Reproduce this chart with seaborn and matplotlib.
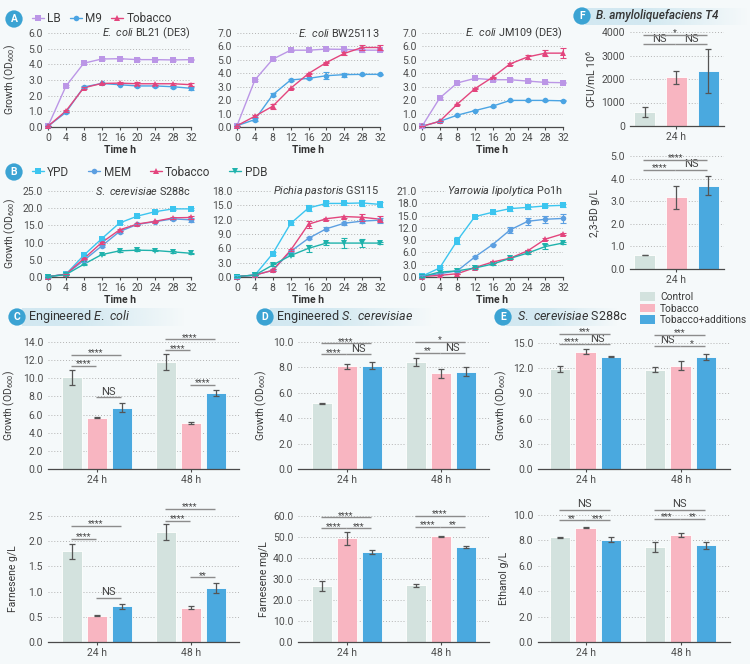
import numpy as np
import pandas as pd
import matplotlib
matplotlib.use('Agg')
import matplotlib.pyplot as plt
import seaborn as sns
from matplotlib.lines import Line2D
from matplotlib.patches import Patch

# ---------------- data ----------------
time_h = [0, 4, 8, 12, 16, 20, 24, 28, 32]

# Panel A: growth (OD600) of E. coli strains
a_media = ['LB', 'M9', 'Tobacco']
a1_lb = [0.05, 2.6, 4.07, 4.34, 4.36, 4.3, 4.3, 4.28, 4.3]
a1_m9 = [0.05, 0.93, 2.55, 2.78, 2.7, 2.62, 2.62, 2.57, 2.47]
a1_tob = [0.05, 1.02, 2.5, 2.78, 2.8, 2.76, 2.76, 2.76, 2.7]
a1_lb_sd = [0, 0.05, 0.05, 0.05, 0.05, 0.08, 0.05, 0.05, 0.05]
a1_m9_sd = [0, 0.05, 0.05, 0.05, 0.05, 0.05, 0.05, 0.05, 0.08]
a1_tob_sd = [0, 0.05, 0.05, 0.05, 0.05, 0.1, 0.05, 0.05, 0.08]

a2_lb = [0.1, 3.5, 5.05, 5.72, 5.72, 5.8, 5.78, 5.72, 5.72]
a2_m9 = [0.1, 0.55, 2.4, 3.5, 3.62, 3.82, 3.9, 3.92, 3.92]
a2_tob = [0.1, 0.8, 1.55, 2.88, 3.98, 4.8, 5.48, 5.92, 5.92]
a2_lb_sd = [0, 0.05, 0.05, 0.05, 0.05, 0.05, 0.05, 0.1, 0.05]
a2_m9_sd = [0, 0.12, 0.1, 0.05, 0.05, 0.25, 0.15, 0.05, 0.05]
a2_tob_sd = [0, 0.08, 0.2, 0.05, 0.05, 0.05, 0.12, 0.2, 0.15]

a3_lb = [0.05, 2.15, 3.28, 3.62, 3.52, 3.52, 3.42, 3.32, 3.3]
a3_m9 = [0.05, 0.42, 0.88, 1.22, 1.55, 1.98, 1.98, 1.98, 1.95]
a3_tob = [0.05, 0.42, 1.7, 2.85, 3.7, 4.7, 5.22, 5.5, 5.5]
a3_lb_sd = [0.1, 0.05, 0.05, 0.05, 0.1, 0.1, 0.05, 0.1, 0.05]
a3_m9_sd = [0, 0.03, 0.03, 0.03, 0.03, 0.05, 0.03, 0.03, 0.03]
a3_tob_sd = [0, 0, 0.05, 0.05, 0.05, 0.05, 0.12, 0.2, 0.35]

# Panel B: growth (OD600) of yeasts
b_media = ['YPD', 'MEM', 'Tobacco', 'PDB']
b1_ypd = [0.1, 0.8, 6.3, 11.1, 15.7, 17.7, 19.0, 19.8, 19.8]
b1_mem = [0.1, 0.8, 4.8, 9.0, 13.2, 15.3, 16.1, 16.9, 16.6]
b1_tob = [0.1, 0.8, 5.3, 10.0, 13.7, 15.4, 16.2, 17.2, 17.3]
b1_pdb = [0.1, 0.7, 3.7, 6.5, 7.6, 7.8, 7.7, 7.3, 6.9]
b1_ypd_sd = [0, 0, 0.3, 0.3, 0.3, 0.3, 0.2, 0.3, 0.3]
b1_mem_sd = [0, 0, 0.3, 0.3, 0.3, 0.2, 0.2, 0.3, 0.6]
b1_tob_sd = [0, 0, 0.2, 0.3, 0.3, 0.2, 0.2, 0.3, 0.5]
b1_pdb_sd = [0, 0, 0.2, 0.2, 0.2, 0.2, 0.2, 0.2, 0.2]

b2_ypd = [0.1, 0.4, 4.9, 11.2, 14.45, 15.4, 15.4, 15.5, 15.2]
b2_mem = [0.1, 0.4, 1.4, 5.35, 8.1, 10.1, 11.25, 11.7, 11.9]
b2_tob = [0.1, 0.4, 1.4, 5.6, 11.05, 12.2, 12.65, 12.5, 12.1]
b2_pdb = [0.1, 0.4, 2.5, 4.5, 6.0, 7.1, 7.1, 7.1, 7.1]
b2_ypd_sd = [0.3, 0, 0.3, 0.3, 0.7, 0.6, 0.4, 0.6, 0.6]
b2_mem_sd = [0, 0, 0.2, 0.2, 0.2, 0.3, 0.3, 0.3, 0.5]
b2_tob_sd = [0, 0, 0.2, 0.2, 0.7, 0.2, 0.2, 0.7, 0.6]
b2_pdb_sd = [0, 0, 0.3, 0.2, 0.8, 0.3, 1.0, 0.8, 0.2]

b3_ypd = [0.2, 2.2, 8.9, 14.75, 15.8, 16.7, 17.0, 17.35, 17.5]
b3_mem = [0.2, 0.8, 1.5, 4.9, 7.9, 11.5, 13.6, 14.1, 14.3]
b3_tob = [0.1, 0.4, 0.8, 2.3, 3.65, 4.6, 6.4, 9.25, 10.55]
b3_pdb = [0.1, 1.2, 1.5, 2.2, 3.15, 4.55, 5.85, 7.45, 8.3]
b3_ypd_sd = [0.3, 0.3, 0.8, 0.3, 0.3, 0.5, 0.3, 0.3, 0.3]
b3_mem_sd = [0.2, 0.2, 0.2, 0.2, 0.2, 0.7, 0.8, 0.8, 1.0]
b3_tob_sd = [0, 0, 0, 0.2, 0.2, 0.2, 0.2, 0.2, 0.2]
b3_pdb_sd = [0, 0, 0, 0.2, 0.3, 0.2, 0.3, 0.5, 0.3]

# Bar panels: rows = time, columns = condition
conditions = ['Control', 'Tobacco', 'Tobacco+additions']
bar_times = ['24 h', '48 h']
c_od_mean = [[10.1, 5.67, 6.74], [11.8, 5.05, 8.33]]
c_od_sd = [[0.8, 0.08, 0.5], [0.88, 0.1, 0.33]]
c_far_mean = [[1.8, 0.52, 0.71], [2.19, 0.68, 1.08]]
c_far_sd = [[0.15, 0.01, 0.05], [0.16, 0.03, 0.1]]
d_od_mean = [[5.16, 8.08, 8.13], [8.42, 7.53, 7.66]]
d_od_sd = [[0.02, 0.2, 0.26], [0.3, 0.34, 0.36]]
d_far_mean = [[26.7, 49.5, 42.7], [27.1, 50.3, 45.2]]
d_far_sd = [[2.2, 3.1, 1.0], [0.7, 0.3, 0.6]]
e_od_mean = [[11.95, 13.97, 13.38], [11.8, 12.3, 13.3]]
e_od_sd = [[0.36, 0.32, 0.1], [0.3, 0.55, 0.35]]
e_eth_mean = [[8.24, 9.0, 8.05], [7.45, 8.45, 7.6]]
e_eth_sd = [[0.06, 0.06, 0.18], [0.4, 0.17, 0.3]]
f_times = ['24 h']
f_cfu_mean = [[594, 2078, 2332]]
f_cfu_sd = [[200, 270, 940]]
f_bd_mean = [[0.62, 3.17, 3.68]]
f_bd_sd = [[0.02, 0.5, 0.42]]

# significance: (time index, cond i, cond j, height, label)
c_od_sig = [(0, 0, 1, 11.35, '****'), (0, 0, 2, 12.6, '****'), (0, 1, 2, 7.9, 'NS'),
            (1, 0, 1, 13.08, '****'), (1, 0, 2, 14.3, '****'), (1, 1, 2, 9.3, '****')]
c_far_sig = [(0, 0, 1, 2.05, '****'), (0, 0, 2, 2.31, '****'), (0, 1, 2, 0.88, 'NS'),
             (1, 0, 1, 2.41, '****'), (1, 0, 2, 2.64, '****'), (1, 1, 2, 1.28, '**')]
d_od_sig = [(0, 0, 1, 9.03, '****'), (0, 0, 2, 9.9, '****'), (0, 1, 2, 9.03, 'NS'),
            (1, 0, 1, 9.13, '**'), (1, 0, 2, 10.0, '*'), (1, 1, 2, 9.13, 'NS')]
d_far_sig = [(0, 0, 1, 54.1, '****'), (0, 0, 2, 59.4, '****'), (0, 1, 2, 54.1, '***'),
             (1, 0, 1, 54.9, '****'), (1, 0, 2, 60.0, '****'), (1, 1, 2, 54.9, '**')]
e_od_sig = [(0, 0, 1, 14.88, '****'), (0, 0, 2, 16.1, '***'), (0, 1, 2, 14.88, 'NS'),
            (1, 0, 1, 14.68, 'NS'), (1, 0, 2, 15.95, '***'), (1, 1, 2, 14.68, '*')]
e_eth_sig = [(0, 0, 1, 9.58, '**'), (0, 1, 2, 9.58, '***'), (0, 0, 2, 10.42, 'NS'),
             (1, 0, 1, 9.68, '***'), (1, 1, 2, 9.68, '**'), (1, 0, 2, 10.42, 'NS')]
f_cfu_sig = [(0, 0, 1, 3490, 'NS'), (0, 1, 2, 3490, 'NS'), (0, 0, 2, 3873, '*')]
f_bd_sig = [(0, 0, 1, 4.4, '****'), (0, 1, 2, 4.4, 'NS'), (0, 0, 2, 4.84, '****')]

# ---------------- style ----------------
BG = '#f5f9fa'
TXT = '#3a3a3a'
TICK = '#4d4d4d'
a_colors = {'LB': '#bb96e6', 'M9': '#4ba4e3', 'Tobacco': '#e3457d'}
a_markers = {'LB': 's', 'M9': 'o', 'Tobacco': '^'}
b_colors = {'YPD': '#3cc5ef', 'MEM': '#5c9fe1', 'Tobacco': '#e3457d', 'PDB': '#1fb2ac'}
b_markers = {'YPD': 's', 'MEM': 'o', 'Tobacco': '^', 'PDB': 'v'}
bar_colors = {'Control': '#d3e2de', 'Tobacco': '#f8b5c1', 'Tobacco+additions': '#4aa9df'}

sns.set_theme(style='white')
plt.rcParams['font.family'] = ['Roboto', 'DejaVu Sans']
plt.rcParams['mathtext.fontset'] = 'custom'
plt.rcParams['mathtext.rm'] = 'Roboto'
plt.rcParams['mathtext.it'] = 'Roboto:italic'
plt.rcParams['mathtext.bf'] = 'Roboto:bold'
plt.rcParams['mathtext.default'] = 'regular'

W, H = 750, 664
fig = plt.figure(figsize=(W / 100, H / 100), dpi=100, facecolor=BG)


def add_ax(x0, x1, ytop, ybot):
    return fig.add_axes([x0 / W, 1 - ybot / H, (x1 - x0) / W, (ybot - ytop) / H])


def style(ax, ylim, yticks, fmt):
    ax.set_facecolor('none')
    ax.set_ylim(*ylim)
    ax.set_yticks(yticks)
    ax.set_yticklabels([fmt.format(v) for v in yticks])
    for s in ['top', 'right', 'left']:
        ax.spines[s].set_visible(False)
    ax.spines['bottom'].set_color('#4a4a4a')
    ax.spines['bottom'].set_linewidth(0.9)
    ax.grid(axis='y', linestyle=(0, (1, 2)), color='#b3b3b3', linewidth=0.7)
    ax.grid(axis='x', visible=False)
    ax.set_axisbelow(True)
    ax.tick_params(axis='y', length=0, pad=3.5, labelsize=7.5, labelcolor=TICK)
    ax.tick_params(axis='x', length=2.5, width=0.8, color='#4a4a4a', pad=1.5,
                   labelsize=7.5, labelcolor=TICK, bottom=True)


def ylab(ax, text, xpx):
    # xpx is the horizontal centre of the rotated label
    ax.set_ylabel(text, fontsize=7.5, color=TXT)
    pos = ax.get_position()
    ax.yaxis.set_label_coords((xpx + 5) / W, pos.y0 + pos.height / 2, transform=fig.transFigure)


def line_panel(ax, series, sds, names, colors, markers, ylim, yticks, title):
    df = pd.DataFrame({'time': np.tile(time_h, len(names)),
                       'od': np.concatenate([np.asarray(s, float) for s in series]),
                       'medium': np.repeat(names, len(time_h))})
    sns.lineplot(data=df, x='time', y='od', hue='medium', style='medium', hue_order=names,
                 style_order=names, palette=colors, markers=markers, dashes=False,
                 errorbar=None, legend=False, ax=ax, linewidth=1.0, markersize=4,
                 markeredgewidth=0, clip_on=False, zorder=3)
    for s, e, n in zip(series, sds, names):
        ax.errorbar(time_h, s, yerr=e, fmt='none', ecolor=colors[n], elinewidth=0.8,
                    capsize=2, capthick=0.8, clip_on=False, zorder=3)
    ax.set_xlim(0, 32)
    ax.set_xticks(time_h)
    style(ax, ylim, yticks, '{:.1f}')
    ax.set_xlabel('Time h', fontsize=7.5, fontweight='bold', color='#333333', labelpad=1.5)
    ax.set_ylabel('')
    ax.text(1.0, 1.0, title, transform=ax.transAxes, ha='right', va='center', fontsize=7.8,
            color=TXT, bbox=dict(fc=BG, ec='none', pad=1.0), zorder=5)


def bar_panel(ax, mean, sd, sig, times, ylim, yticks, fmt, xlim, gap):
    rows = []
    for ti, t in enumerate(times):
        for ci, c in enumerate(conditions):
            rows.append((t, c, mean[ti][ci]))
    df = pd.DataFrame(rows, columns=['time', 'condition', 'value'])
    sns.barplot(data=df, x='time', y='value', hue='condition', order=times,
                hue_order=conditions, palette=bar_colors, width=0.8, gap=gap,
                errorbar=None, legend=False, ax=ax, edgecolor='white', linewidth=0.6,
                saturation=1)
    patches = sorted(ax.patches, key=lambda p: p.get_x())
    centers = [[patches[ti * 3 + ci].get_x() + patches[ti * 3 + ci].get_width() / 2
                for ci in range(3)] for ti in range(len(times))]
    xs = [centers[ti][ci] for ti in range(len(times)) for ci in range(3)]
    ys = [mean[ti][ci] for ti in range(len(times)) for ci in range(3)]
    es = [sd[ti][ci] for ti in range(len(times)) for ci in range(3)]
    ax.errorbar(xs, ys, yerr=es, fmt='none', ecolor='#555555', elinewidth=0.9,
                capsize=2.5, capthick=0.9, zorder=4)
    for ti, i, j, y, lab in sig:
        x1 = centers[ti][i] - 0.01
        x2 = centers[ti][j] - 0.01
        ax.plot([x1, x2], [y, y], color='#8c8c8c', lw=1.0, clip_on=False, zorder=4,
                solid_capstyle='butt')
        star = '*' in lab
        ax.annotate(lab, ((x1 + x2) / 2, y), xytext=(0, -1.8 if star else 0.3),
                    textcoords='offset points', ha='center', va='bottom',
                    fontsize=6.5 if star else 8, color='#444444', annotation_clip=False)
    ax.set_xlim(*xlim)
    style(ax, ylim, yticks, fmt)
    ax.set_xlabel('')


# ---------------- Panel A ----------------
axA1 = add_ax(48, 191, 33, 127)
line_panel(axA1, [a1_lb, a1_m9, a1_tob], [a1_lb_sd, a1_m9_sd, a1_tob_sd], a_media,
           a_colors, a_markers, (0, 6), np.arange(0, 6.01, 1), r'$\mathit{E.\ coli}$ BL21 (DE3)')
ylab(axA1, 'Growth (OD$_{600}$)', 13)
axA2 = add_ax(237, 380, 33, 127)
line_panel(axA2, [a2_lb, a2_m9, a2_tob], [a2_lb_sd, a2_m9_sd, a2_tob_sd], a_media,
           a_colors, a_markers, (0, 7), np.arange(0, 7.01, 1), r'$\mathit{E.\ coli}$ BW25113')
axA3 = add_ax(422, 563, 33, 127)
line_panel(axA3, [a3_lb, a3_m9, a3_tob], [a3_lb_sd, a3_m9_sd, a3_tob_sd], a_media,
           a_colors, a_markers, (0, 7), np.arange(0, 7.01, 1), r'$\mathit{E.\ coli}$ JM109 (DE3)')

# ---------------- Panel B ----------------
axB1 = add_ax(48, 191, 191, 277)
line_panel(axB1, [b1_ypd, b1_mem, b1_tob, b1_pdb], [b1_ypd_sd, b1_mem_sd, b1_tob_sd, b1_pdb_sd],
           b_media, b_colors, b_markers, (0, 25), np.arange(0, 25.01, 5),
           r'$\mathit{S.\ cerevisiae}$ S288c')
ylab(axB1, 'Growth (OD$_{600}$)', 13)
axB2 = add_ax(237, 380, 191, 277)
line_panel(axB2, [b2_ypd, b2_mem, b2_tob, b2_pdb], [b2_ypd_sd, b2_mem_sd, b2_tob_sd, b2_pdb_sd],
           b_media, b_colors, b_markers, (0, 18), np.arange(0, 18.01, 3),
           r'$\mathit{Pichia\ pastoris}$ GS115')
axB3 = add_ax(422, 563, 191, 277)
line_panel(axB3, [b3_ypd, b3_mem, b3_tob, b3_pdb], [b3_ypd_sd, b3_mem_sd, b3_tob_sd, b3_pdb_sd],
           b_media, b_colors, b_markers, (0, 21), np.arange(0, 21.01, 3),
           r'$\mathit{Yarrowia\ lipolytica}$ Po1h')

# ---------------- Panels C, D, E ----------------
axC1 = add_ax(48, 239, 342, 469)
bar_panel(axC1, c_od_mean, c_od_sd, c_od_sig, bar_times, (0, 14), np.arange(0, 14.01, 2),
          '{:.1f}', (-0.52, 1.51), 0.2)
ylab(axC1, 'Growth (OD$_{600}$)', 12)
axC2 = add_ax(48, 239, 516, 642)
bar_panel(axC2, c_far_mean, c_far_sd, c_far_sig, bar_times, (0, 2.5), np.arange(0, 2.51, 0.5),
          '{:.1f}', (-0.52, 1.51), 0.2)
ylab(axC2, 'Farnesene g/L', 13)

axD1 = add_ax(298, 489, 342, 469)
bar_panel(axD1, d_od_mean, d_od_sd, d_od_sig, bar_times, (0, 10), np.arange(0, 10.01, 2),
          '{:.1f}', (-0.52, 1.51), 0.2)
ylab(axD1, 'Growth (OD$_{600}$)', 264)
axD2 = add_ax(298, 489, 516, 642)
bar_panel(axD2, d_far_mean, d_far_sd, d_far_sig, bar_times, (0, 60), np.arange(0, 60.01, 10),
          '{:.1f}', (-0.52, 1.51), 0.2)
ylab(axD2, 'Farnesene mg/L', 264)

axE1 = add_ax(538, 730, 343, 469)
bar_panel(axE1, e_od_mean, e_od_sd, e_od_sig, bar_times, (0, 15), np.arange(0, 15.01, 3),
          '{:.1f}', (-0.5, 1.52), 0.2)
ylab(axE1, 'Growth (OD$_{600}$)', 504)
axE2 = add_ax(538, 730, 515, 642)
bar_panel(axE2, e_eth_mean, e_eth_sd, e_eth_sig, bar_times, (0, 10), np.arange(0, 10.01, 2),
          '{:.1f}', (-0.5, 1.52), 0.2)
ylab(axE2, 'Ethanol g/L', 504)

# ---------------- Panel F ----------------
axF1 = add_ax(630, 724, 32, 126)
bar_panel(axF1, f_cfu_mean, f_cfu_sd, f_cfu_sig, f_times, (0, 4000), np.arange(0, 4001, 1000),
          '{:.0f}', (-0.39, 0.40), 0.34)
ylab(axF1, 'CFU/mL 10$^{6}$', 593)
axF2 = add_ax(630, 724, 156, 269)
bar_panel(axF2, f_bd_mean, f_bd_sd, f_bd_sig, f_times, (0, 5), np.arange(0, 5.01, 1),
          '{:.1f}', (-0.39, 0.40), 0.34)
ylab(axF2, '2,3-BD g/L', 595)

# ---------------- legends ----------------
a_handles = [Line2D([0], [0], color=a_colors[n], marker=a_markers[n], lw=1, ms=4, mew=0)
             for n in a_media]
fig.legend(a_handles, a_media, loc='center left', bbox_to_anchor=(32 / W, 1 - 19 / H),
           ncol=3, frameon=False, fontsize=8.5, handlelength=1.0, handletextpad=0.3,
           columnspacing=0.75, borderaxespad=0, borderpad=0, labelcolor=TXT)
b_handles = [Line2D([0], [0], color=b_colors[n], marker=b_markers[n], lw=1, ms=4, mew=0)
             for n in b_media]
fig.legend(b_handles, b_media, loc='center left', bbox_to_anchor=(32 / W, 1 - 172 / H),
           ncol=4, frameon=False, fontsize=8.5, handlelength=1.0, handletextpad=0.3,
           columnspacing=1.6, borderaxespad=0, borderpad=0, labelcolor=TXT)
bar_handles = [Patch(facecolor=bar_colors[c], edgecolor='none') for c in conditions]
fig.legend(bar_handles, conditions, loc='upper left', bbox_to_anchor=(640 / W, 1 - 292 / H),
           frameon=False, fontsize=7.3, handlelength=1.5, handleheight=0.9,
           handletextpad=0.5, labelspacing=0.15, borderaxespad=0, borderpad=0,
           labelcolor=TXT)


# ---------------- headers ----------------
def band(x0, x1, y0, y1):
    bax = fig.add_axes([x0 / W, 1 - y1 / H, (x1 - x0) / W, (y1 - y0) / H])
    bax.axis('off')
    rgb = np.array(matplotlib.colors.to_rgb('#cfe7f0'))
    grad = np.ones((1, 256, 4))
    grad[..., :3] = rgb
    t = np.linspace(0, 1, 256)
    grad[0, :, 3] = np.clip(1.6 * (1 - t), 0, 1) * 0.9
    bax.imshow(grad, aspect='auto', extent=[0, 1, 0, 1])


def badge(x, y, letter):
    fig.text(x / W, 1 - y / H, letter, ha='center', va='center', color='white', fontsize=7.5,
             fontweight='bold', zorder=10,
             bbox=dict(boxstyle='circle,pad=0.35', fc='#3ba3d3', ec='none'))


band(22, 185, 308, 326)
band(270, 432, 308, 326)
band(506, 617, 308, 326)
band(585, 748, 8, 25)
badge(14, 19, 'A')
badge(14, 172, 'B')
badge(17, 317, 'C')
badge(265, 317, 'D')
badge(503, 317, 'E')
badge(582, 16, 'F')
fig.text(28 / W, 1 - 317 / H, r'Engineered $\mathit{E.\ coli}$', ha='left', va='center',
         fontsize=9, color='#333333')
fig.text(276 / W, 1 - 317 / H, r'Engineered $\mathit{S.\ cerevisiae}$', ha='left', va='center',
         fontsize=9, color='#333333')
fig.text(517 / W, 1 - 317 / H, r'$\mathit{S.\ cerevisiae}$ S288c', ha='left', va='center',
         fontsize=9, color='#333333')
fig.text(596 / W, 1 - 16 / H, 'B. amyloliquefaciens T4', ha='left', va='center',
         fontsize=8.5, color='#333333', style='italic', fontweight='medium')

fig.savefig('out.png', dpi=100, facecolor=BG)
